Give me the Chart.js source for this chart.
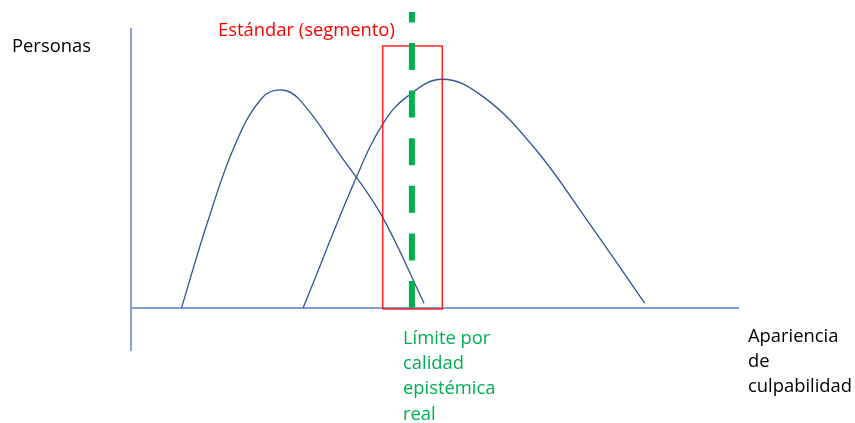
<!DOCTYPE html>
<html lang="es">
<head>
<meta charset="UTF-8">
<title>Estándar y límite epistémico</title>
<script src="https://cdn.jsdelivr.net/npm/chart.js"></script>
<style>
  html, body { margin: 0; padding: 0; background: #fff; }
  #wrap { width: 855px; height: 423px; }
</style>
</head>
<body>
<div id="wrap"><canvas id="chart" width="855" height="423"></canvas></div>
<script>
// valores (x = apariencia de culpabilidad, y = personas)
const curvaA_x = [8.3, 12.7, 17.1, 21.5, 24.8, 27.8, 34.4, 41.0, 48.2];
const curvaA_y = [0, 38.4, 71.2, 91.6, 95.2, 90.8, 66.8, 41.4, 2.1];
const curvaB_x = [28.3, 37.1, 41.5, 45.4, 51.2, 57.9, 66.2, 75.0, 84.5];
const curvaB_y = [0, 57.3, 80.7, 92.3, 99.9, 92.3, 70.4, 38.4, 2.1];
const segmento_x = [41.4, 51.2];      // estándar (segmento)
const segmento_y = [-0.4, 114.4];
const limite_x = 46.2;                // límite por calidad epistémica real
const limite_y = [0, 129.3];
const ejeX = [0, 100];
const ejeY = [-18.8, 122.3];

const toPts = (xs, ys) => xs.map((x, i) => ({ x, y: ys[i] }));

const rect = [
  { x: segmento_x[0], y: segmento_y[0] },
  { x: segmento_x[0], y: segmento_y[1] },
  { x: segmento_x[1], y: segmento_y[1] },
  { x: segmento_x[1], y: segmento_y[0] },
  { x: segmento_x[0], y: segmento_y[0] }
];

// textos del esquema
const textos = [
  { lines: ['Personas'], x: 12, y: 52, color: '#000000' },
  { lines: ['Estándar (segmento)'], x: 218, y: 36, color: '#FF0000' },
  { lines: ['Límite por', 'calidad', 'epistémica', 'real'], x: 403, y: 344, color: '#00B050' },
  { lines: ['Apariencia', 'de', 'culpabilidad'], x: 748, y: 342, color: '#000000' }
];

const textPlugin = {
  id: 'textos',
  afterDraw(chart) {
    const ctx = chart.ctx;
    ctx.save();
    ctx.font = '17px "Open Sans", sans-serif';
    // ajustar tamaño para que el título rojo mida como en el original
    const w = ctx.measureText('Estándar (segmento)').width;
    const size = 17 * 177 / w;
    ctx.font = size.toFixed(2) + 'px "Open Sans", sans-serif';
    ctx.textBaseline = 'alphabetic';
    ctx.textAlign = 'left';
    textos.forEach(t => {
      ctx.fillStyle = t.color;
      t.lines.forEach((l, i) => ctx.fillText(l, t.x, t.y + i * 25.2));
    });
    ctx.restore();
  }
};

const ctx = document.getElementById('chart').getContext('2d');
new Chart(ctx, {
  type: 'scatter',
  data: {
    datasets: [
      {
        label: 'Límite',
        data: [{ x: limite_x, y: limite_y[0] }, { x: limite_x, y: limite_y[1] }],
        showLine: true,
        borderColor: '#00B050',
        borderWidth: 6,
        borderDash: [27, 20.6],
        borderCapStyle: 'butt',
        pointRadius: 0,
        order: 1
      },
      {
        label: 'Estándar',
        data: rect,
        showLine: true,
        borderColor: 'rgba(255,0,0,0.85)',
        borderWidth: 1.5,
        pointRadius: 0,
        tension: 0,
        order: 2
      },
      {
        label: 'Curva A',
        data: toPts(curvaA_x, curvaA_y),
        showLine: true,
        borderColor: '#2F5597',
        borderWidth: 1.3,
        pointRadius: 0,
        tension: 0.4,
        order: 3
      },
      {
        label: 'Curva B',
        data: toPts(curvaB_x, curvaB_y),
        showLine: true,
        borderColor: '#2F5597',
        borderWidth: 1.3,
        pointRadius: 0,
        tension: 0.4,
        order: 3
      },
      {
        label: 'Eje X',
        data: [{ x: ejeX[0], y: 0 }, { x: ejeX[1], y: 0 }],
        showLine: true,
        borderColor: '#7F9FD8',
        borderWidth: 2,
        pointRadius: 0,
        order: 4
      },
      {
        label: 'Eje Y',
        data: [{ x: 0, y: ejeY[0] }, { x: 0, y: ejeY[1] }],
        showLine: true,
        borderColor: '#4472C4',
        borderWidth: 1.3,
        pointRadius: 0,
        order: 4
      }
    ]
  },
  options: {
    responsive: false,
    animation: false,
    layout: { padding: 0 },
    scales: {
      // 1 unidad x = 6.08 px, origen en 131 px; 1 unidad y = 2.29 px, origen en 308 px
      x: { type: 'linear', display: false, min: -131 / 6.08, max: (855 - 131) / 6.08 },
      y: { type: 'linear', display: false, min: -(423 - 308) / 2.29, max: 308 / 2.29 }
    },
    plugins: {
      legend: { display: false },
      tooltip: { enabled: false }
    }
  },
  plugins: [textPlugin]
});
</script>
</body>
</html>
